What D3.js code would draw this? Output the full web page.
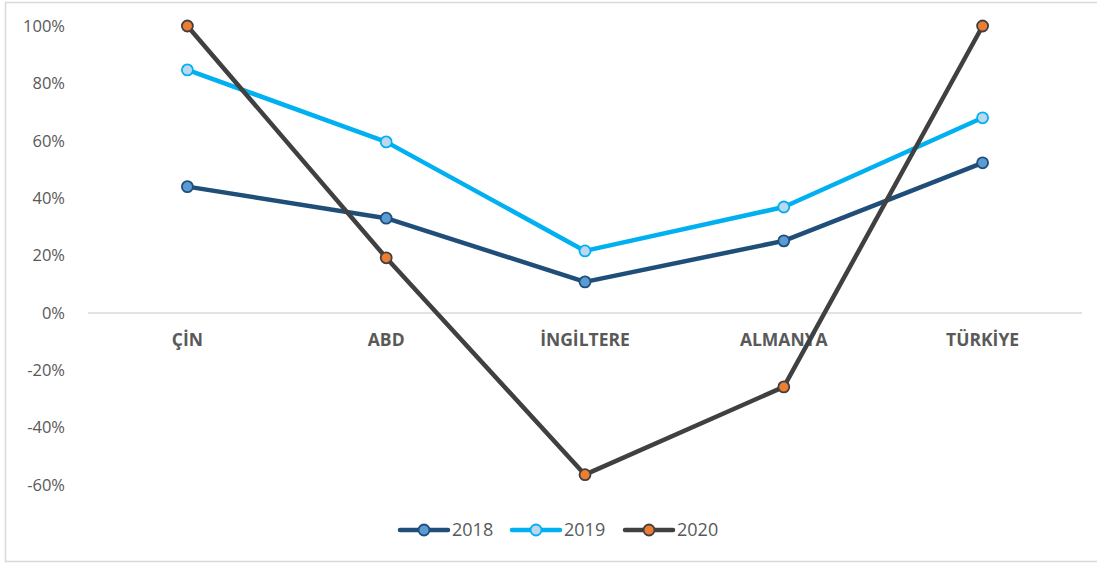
<!DOCTYPE html>
<html>
<head>
<meta charset="utf-8">
<script src="https://cdn.jsdelivr.net/npm/d3@7"></script>
<style>
  body { margin: 0; background: #fff; }
  svg { display: block; font-family: "Open Sans", "Liberation Sans", sans-serif; }
</style>
</head>
<body>
<svg id="chart"></svg>
<script>
// Data
const countries = ['ÇİN', 'ABD', 'İNGİLTERE', 'ALMANYA', 'TÜRKİYE'];
const years = ['2018', '2019', '2020'];
const values2018 = [0.44, 0.33, 0.108, 0.251, 0.523];
const values2019 = [0.847, 0.596, 0.216, 0.369, 0.68];
const values2020 = [1.0, 0.192, -0.564, -0.258, 1.0];
const yTicks = [-0.6, -0.4, -0.2, 0, 0.2, 0.4, 0.6, 0.8, 1.0];

const series = [
  { name: years[0], values: values2018, line: '#1f4e79', fill: '#5b9bd5', stroke: '#1f4e79' },
  { name: years[1], values: values2019, line: '#00b0f0', fill: '#bdd7ee', stroke: '#00b0f0' },
  { name: years[2], values: values2020, line: '#404040', fill: '#ed7d31', stroke: '#404040' }
];

const width = 1097, height = 565;
const plot = { left: 88, right: 1082, top: 26, bottom: 485 };

const svg = d3.select('#chart').attr('width', width).attr('height', height);

// frame
svg.append('rect')
  .attr('x', 5.5).attr('y', 2.5)
  .attr('width', 1100).attr('height', 559)
  .attr('fill', 'none').attr('stroke', '#d9d9d9').attr('stroke-width', 1.5);

const x = d3.scaleBand().domain(countries).range([plot.left, plot.right]);
const y = d3.scaleLinear().domain([-0.6, 1.0]).range([plot.bottom, plot.top]);

const pct = d => `${Math.round(d * 100)}%`;

// y axis labels
svg.append('g')
  .attr('transform', `translate(${plot.left - 20},0)`)
  .call(d3.axisLeft(y).tickValues(yTicks).tickFormat(pct).tickSize(0))
  .call(g => g.select('.domain').remove())
  .call(g => g.selectAll('text')
    .attr('fill', '#595959').attr('font-size', 16.5)
    .attr('font-family', '"Open Sans", sans-serif'));

// zero line
svg.append('line')
  .attr('x1', plot.left).attr('x2', plot.right)
  .attr('y1', y(0)).attr('y2', y(0))
  .attr('stroke', '#d9d9d9').attr('stroke-width', 1.5);

// category labels
svg.append('g')
  .selectAll('text')
  .data(countries)
  .join('text')
    .attr('x', d => x(d) + x.bandwidth() / 2)
    .attr('y', y(0) + 33)
    .attr('text-anchor', 'middle')
    .attr('fill', '#595959')
    .attr('font-size', 17.5)
    .attr('font-weight', 'bold')
    .text(d => d);

const cx = (d, i) => x(countries[i]) + x.bandwidth() / 2;

const line = d3.line()
  .x((d, i) => cx(d, i))
  .y(d => y(d));

const groups = svg.append('g')
  .selectAll('g')
  .data(series)
  .join('g');

groups.append('path')
  .attr('d', d => line(d.values))
  .attr('fill', 'none')
  .attr('stroke', d => d.line)
  .attr('stroke-width', 4.5)
  .attr('stroke-linejoin', 'round');

groups.each(function(s) {
  d3.select(this).selectAll('circle')
    .data(s.values)
    .join('circle')
      .attr('cx', (d, i) => cx(d, i))
      .attr('cy', d => y(d))
      .attr('r', 5.5)
      .attr('fill', s.fill)
      .attr('stroke', s.stroke)
      .attr('stroke-width', 1.8);
});

// legend
const legendX = [400, 512, 625];
const legend = svg.append('g')
  .selectAll('g')
  .data(series)
  .join('g')
    .attr('transform', (d, i) => `translate(${legendX[i]},530)`);

legend.append('line')
  .attr('x1', 0).attr('x2', 48)
  .attr('stroke', d => d.line).attr('stroke-width', 4.5)
  .attr('stroke-linecap', 'round');

legend.append('circle')
  .attr('cx', 24).attr('r', 5.5)
  .attr('fill', d => d.fill).attr('stroke', d => d.stroke).attr('stroke-width', 1.8);

legend.append('text')
  .attr('x', 52).attr('dy', '0.35em')
  .attr('fill', '#595959').attr('font-size', 18)
  .text(d => d.name);
</script>
</body>
</html>
